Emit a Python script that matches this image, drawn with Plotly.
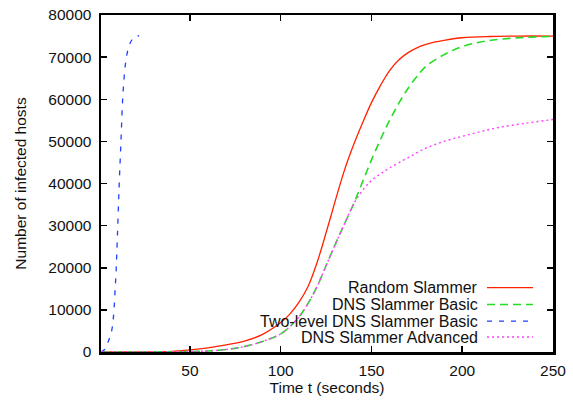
import plotly.graph_objects as go

# ---- data ----
random_x = [1, 40, 50, 60, 70, 80, 90, 100, 105, 110, 115, 120, 125, 130, 135, 140, 145, 150, 155, 160, 165, 170, 175, 180, 185, 190, 200, 215, 230, 250]
random_y = [0, 150, 500, 1000, 1700, 2600, 4200, 7000, 9000, 11800, 15500, 21200, 28300, 35800, 43000, 49000, 54300, 59200, 63300, 66800, 69300, 71000, 72200, 73000, 73600, 74000, 74600, 74900, 75000, 75000]

basic_x = [1, 50, 60, 70, 80, 90, 100, 105, 110, 115, 120, 125, 130, 135, 140, 145, 150, 155, 160, 165, 170, 175, 180, 190, 200, 210, 220, 235, 250]
basic_y = [0, 100, 250, 600, 1300, 2500, 4300, 6000, 8300, 11500, 15500, 20500, 25500, 30300, 35000, 40300, 45600, 50500, 55000, 59000, 62500, 65400, 67800, 70600, 72500, 73600, 74200, 74700, 74900]

twolevel_x = [1, 3, 5, 7, 9, 10, 11, 12, 13, 14.5, 16, 17.5, 19.5, 22]
twolevel_y = [0, 600, 2500, 5300, 16500, 27000, 39500, 50000, 60500, 68500, 72000, 73700, 74700, 75100]

advanced_x = [1, 50, 60, 70, 80, 90, 100, 105, 110, 115, 120, 125, 130, 135, 140, 145, 150, 155, 160, 170, 180, 190, 200, 210, 220, 235, 250]
advanced_y = [0, 100, 250, 600, 1300, 2500, 4300, 6000, 8300, 11500, 15500, 20500, 25500, 30300, 35000, 38300, 40700, 42300, 43700, 46100, 48400, 50000, 51200, 52300, 53300, 54300, 55200]

series_names = ["Random Slammer", "DNS Slammer Basic", "Two-level DNS Slammer Basic", "DNS Slammer Advanced"]
x_ticks = [50, 100, 150, 200, 250]
y_ticks = [0, 10000, 20000, 30000, 40000, 50000, 60000, 70000, 80000]

colors = ["#ff2200", "#22dd22", "#2040ff", "#ff40ff"]
dashes = ["solid", "8px,5px", "5px,7px", "2px,3px"]
widths = [1.3, 1.6, 1.3, 1.4]

FONT = "Liberation Sans, Arial, Helvetica, sans-serif"
FS = 15.5

fig = go.Figure()
for xs, ys, name, c, d, w in zip(
    [random_x, basic_x, twolevel_x, advanced_x],
    [random_y, basic_y, twolevel_y, advanced_y],
    series_names, colors, dashes, widths):
    fig.add_trace(go.Scatter(x=xs, y=ys, mode="lines", name=name,
                             line=dict(color=c, dash=d, width=w, shape="spline", smoothing=1.0),
                             showlegend=False, hoverinfo="skip"))

# the page body margin is removed (post_script below), so the figure fills the window
W, H = 573, 403
PL, PR, PT, PB = 101, 553, 15, 352.5          # plot-area edges in window pixels
L, T = PL, PT
R, B = W - PR, H - PB
PW, PH = PR - PL, PB - PT

def px_x(x):
    return (x - PL) / PW

def px_y(y):
    return 1 - (y - PT) / PH

# custom legend: text right-aligned, sample line on the right (gnuplot style)
row_px = [288, 305, 321.5, 337.5]
for name, c, d, w, ypx in zip(series_names, colors, dashes, widths, row_px):
    yp = px_y(ypx)
    fig.add_annotation(xref="paper", yref="paper", x=px_x(480), y=yp,
                       text=name, showarrow=False, xanchor="right", yanchor="middle",
                       font=dict(family=FONT, size=16, color="#111111"))
    fig.add_shape(type="line", xref="paper", yref="paper",
                  x0=px_x(487), x1=px_x(533), y0=yp, y1=yp,
                  line=dict(color=c, dash=d, width=w))

axis_common = dict(showgrid=False, zeroline=False, showline=True, linecolor="black",
                   linewidth=2.5, mirror="ticks", ticks="inside", ticklen=6, tickwidth=1.5,
                   tickcolor="black", automargin=False, ticklabeloverflow="allow",
                   tickfont=dict(family=FONT, size=FS, color="#111111"))

fig.update_layout(
    width=W, height=H,
    margin=dict(l=L, r=R, t=T, b=B),
    paper_bgcolor="white", plot_bgcolor="white",
    font=dict(family=FONT, size=FS, color="#111111"),
    hovermode=False,
    xaxis=dict(range=[1, 250], tickvals=x_ticks, ticktext=[str(v) for v in x_ticks],
               title=dict(text="Time t (seconds)", font=dict(family=FONT, size=FS), standoff=1),
               ticklabelstandoff=3,
               **axis_common),
    yaxis=dict(range=[0, 80000], tickvals=y_ticks, ticktext=[str(v) for v in y_ticks],
               title=dict(text="Number of infected hosts", font=dict(family=FONT, size=FS), standoff=18),
               ticklabelstandoff=4,
               **axis_common),
)

fig.write_html("out.html", config={"displayModeBar": False, "staticPlot": True},
               post_script="document.body.style.margin='0';")
